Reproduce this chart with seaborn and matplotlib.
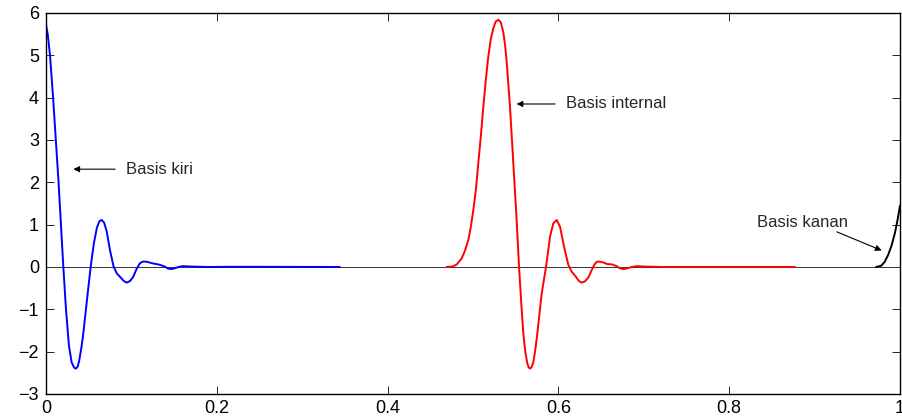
import matplotlib
matplotlib.use("Agg")
import matplotlib.pyplot as plt
import seaborn as sns

# kurva basis
kiri_x = [0.0, 0.002, 0.0047, 0.0083, 0.0115, 0.0147, 0.0175, 0.0203, 0.0234, 0.0268,
          0.0300, 0.0330, 0.0351, 0.0372, 0.0390, 0.0415, 0.0437, 0.0484, 0.0523, 0.0560,
          0.0595, 0.0625, 0.0652, 0.0680, 0.0710, 0.0749, 0.0790, 0.0828, 0.0870, 0.0910,
          0.0945, 0.0985, 0.1022, 0.1060, 0.1100, 0.1140, 0.1190, 0.1237, 0.1290, 0.1335,
          0.1390, 0.1430, 0.1470, 0.1510, 0.1550, 0.1600, 0.1700, 0.1900, 0.2200, 0.344]
kiri_y = [5.72, 5.5, 5.0, 4.0, 3.0, 2.0, 1.0, 0.0, -1.0, -1.85,
          -2.25, -2.38, -2.40, -2.35, -2.2, -1.9, -1.57, -0.70, 0.0, 0.55,
          0.92, 1.08, 1.11, 1.05, 0.85, 0.40, 0.02, -0.15, -0.24, -0.33,
          -0.37, -0.33, -0.23, -0.05, 0.09, 0.13, 0.12, 0.09, 0.07, 0.05,
          0.01, -0.04, -0.05, -0.03, 0.0, 0.02, 0.01, 0.0, 0.005, 0.0]

internal_x = [0.469, 0.476, 0.481, 0.4867, 0.4905, 0.4945, 0.4975, 0.5004, 0.5035, 0.5062,
              0.5092, 0.5121, 0.5150, 0.5179, 0.5208, 0.5238, 0.5267, 0.5296, 0.5325, 0.5355,
              0.5375, 0.5394, 0.5433, 0.5472, 0.5511, 0.5539, 0.5565, 0.5589, 0.5612, 0.5636,
              0.5652, 0.5667, 0.5685, 0.5706, 0.5730, 0.5753, 0.5804, 0.5855, 0.5902, 0.5940,
              0.5980, 0.6019, 0.6066, 0.6116, 0.6155, 0.6200, 0.6240, 0.6272, 0.6310, 0.6350,
              0.6409, 0.6440, 0.6467, 0.6520, 0.6570, 0.6630, 0.6680, 0.6720, 0.6760, 0.6810,
              0.6860, 0.6917, 0.7000, 0.7200, 0.877]
internal_y = [0.0, 0.01, 0.06, 0.2, 0.38, 0.64, 0.95, 1.35, 1.85, 2.45,
              3.1, 3.79, 4.42, 4.97, 5.38, 5.64, 5.80, 5.84, 5.78, 5.55,
              5.25, 4.85, 3.79, 2.45, 1.1, 0.0, -0.85, -1.57, -2.0, -2.28,
              -2.37, -2.40, -2.37, -2.25, -1.95, -1.57, -0.63, 0.0, 0.72, 1.03,
              1.11, 0.95, 0.48, 0.05, -0.11, -0.22, -0.33, -0.37, -0.34, -0.25,
              0.01, 0.11, 0.13, 0.11, 0.07, 0.06, 0.02, -0.03, -0.05, -0.03,
              0.0, 0.02, 0.01, 0.0, 0.0]

kanan_x = [0.972, 0.978, 0.982, 0.986, 0.990, 0.994, 0.997, 1.0]
kanan_y = [0.0, 0.03, 0.12, 0.28, 0.50, 0.80, 1.10, 1.45]

nol_x = [0.0, 1.0]
nol_y = [0.0, 0.0]

x_ticks = [0, 0.2, 0.4, 0.6, 0.8, 1]
x_tick_labels = ['0', '0.2', '0.4', '0.6', '0.8', '1']
y_ticks = [-3, -2, -1, 0, 1, 2, 3, 4, 5, 6]
y_tick_labels = ['\u22123', '\u22122', '\u22121', '0', '1', '2', '3', '4', '5', '6']

sns.set_theme(style="white")
plt.rcParams['font.family'] = ['Liberation Sans', 'DejaVu Sans']
plt.rcParams['axes.edgecolor'] = 'black'
plt.rcParams['axes.linewidth'] = 1.0

fig = plt.figure(figsize=(9.02, 4.17), dpi=100)
ax = fig.add_axes([0.051, 0.0552, 0.9468, 0.9137])

# garis nol dulu, supaya kurva menimpanya
sns.lineplot(x=nol_x, y=nol_y, ax=ax, color='#333333', lw=0.7, sort=False, estimator=None)
sns.lineplot(x=kiri_x, y=kiri_y, ax=ax, color='#0000ff', lw=1.4, sort=False, estimator=None)
sns.lineplot(x=internal_x, y=internal_y, ax=ax, color='#ff0000', lw=1.4, sort=False, estimator=None)
sns.lineplot(x=kanan_x, y=kanan_y, ax=ax, color='black', lw=1.4, sort=False, estimator=None)

ax.set_xlim(0, 1)
ax.set_ylim(-3, 6)
ax.set_xticks(x_ticks)
ax.set_xticklabels(x_tick_labels)
ax.set_yticks(y_ticks)
ax.set_yticklabels(y_tick_labels)
ax.tick_params(direction='in', length=6, width=0.6, colors='black', labelsize=13,
               top=True, right=True, bottom=True, left=True)
ax.tick_params(axis='x', pad=4)
ax.tick_params(axis='y', pad=5)
ax.set_xlabel('')
ax.set_ylabel('')
for s in ax.spines.values():
    s.set_visible(True)
    s.set_color('black')

panah = dict(arrowstyle='-|>', color='black', lw=0.8, mutation_scale=9, shrinkA=0, shrinkB=0)
ax.annotate('', xy=(0.032, 2.31), xytext=(0.081, 2.31), arrowprops=panah)
ax.text(0.0937, 2.31, 'Basis kiri', fontsize=12, va='center', ha='left')

ax.annotate('', xy=(0.551, 3.85), xytext=(0.596, 3.85), arrowprops=panah)
ax.text(0.609, 3.85, 'Basis internal', fontsize=12, va='center', ha='left')

ax.annotate('', xy=(0.9785, 0.39), xytext=(0.926, 0.83), arrowprops=panah)
ax.text(0.8326, 1.05, 'Basis kanan', fontsize=12, va='center', ha='left')

plt.savefig('out.png', dpi=100)
